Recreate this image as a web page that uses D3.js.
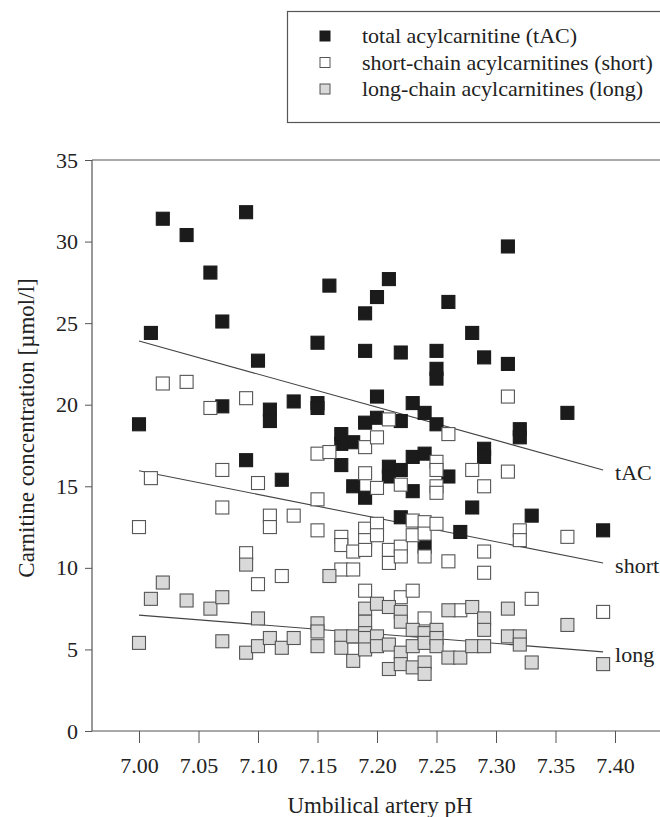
<!DOCTYPE html>
<html>
<head>
<meta charset="utf-8">
<script src="https://cdnjs.cloudflare.com/ajax/libs/d3/7.8.5/d3.min.js"></script>
<style>
  body { margin: 0; background: #fff; }
  text { font-family: "Liberation Serif", "Times New Roman", serif; fill: #222; }
</style>
</head>
<body>
<div id="scatter"></div>
<script>
// pH values and concentrations (umol/l)
var tacPH = [7.00,7.01,7.02,7.04,7.06,7.07,7.07,7.09,7.09,7.10,7.11,7.11,7.12,7.13,7.15,7.15,7.15,7.16,
  7.17,7.17,7.17,7.18,7.18,7.19,7.19,7.19,7.19,7.20,7.20,7.20,7.21,7.21,7.21,7.22,7.22,7.22,7.22,
  7.23,7.23,7.23,7.24,7.24,7.24,7.25,7.25,7.25,7.25,7.26,7.26,7.27,7.28,7.28,7.29,7.29,7.29,
  7.31,7.31,7.32,7.32,7.33,7.36,7.39];
var tacValues = [18.8,24.4,31.4,30.4,28.1,25.1,19.9,31.8,16.6,22.7,19.7,19.0,15.4,20.2,23.8,20.1,19.8,27.3,
  18.2,17.6,16.3,17.7,15.0,25.6,23.3,18.9,14.3,26.6,20.5,19.2,27.7,16.2,15.6,23.2,19.0,16.0,13.1,
  20.1,16.8,14.7,19.5,17.0,11.3,23.3,22.2,21.6,18.8,26.3,15.6,12.2,24.4,13.7,22.9,17.3,16.8,
  29.7,22.5,18.5,18.0,13.2,19.5,12.3];

var shortPH = [7.00,7.01,7.02,7.04,7.06,7.07,7.07,7.09,7.09,7.10,7.10,7.11,7.11,7.12,7.13,7.15,7.15,7.15,
  7.16,7.17,7.17,7.17,7.18,7.18,7.18,7.19,7.19,7.19,7.19,7.19,7.19,7.20,7.20,7.20,7.20,7.21,7.21,7.21,
  7.22,7.22,7.22,7.22,7.23,7.23,7.23,7.24,7.24,7.24,7.24,7.25,7.25,7.25,7.25,7.25,7.26,7.26,7.27,
  7.28,7.29,7.29,7.29,7.31,7.31,7.32,7.32,7.33,7.36,7.39];
var shortValues = [12.5,15.5,21.3,21.4,19.8,16.0,13.7,20.4,10.9,15.2,9.0,13.2,12.5,9.5,13.2,17.0,14.2,12.3,
  17.1,11.9,11.4,9.9,11.0,9.9,5.0,17.4,15.8,12.4,11.7,11.1,8.6,18.0,14.9,12.7,12.0,19.1,11.1,10.3,
  15.1,11.3,10.7,8.2,12.9,12.0,8.6,12.8,12.1,10.7,6.9,16.5,16.0,15.0,14.6,12.7,18.2,10.4,7.4,
  16.0,15.0,11.0,9.7,20.5,15.9,12.3,11.7,8.1,11.9,7.3];

var longPH = [7.00,7.01,7.02,7.04,7.06,7.07,7.07,7.09,7.09,7.10,7.10,7.11,7.12,7.13,7.15,7.15,7.15,7.16,
  7.17,7.17,7.18,7.18,7.19,7.19,7.19,7.19,7.19,7.20,7.20,7.20,7.21,7.21,7.21,7.22,7.22,7.22,7.22,
  7.23,7.23,7.23,7.24,7.24,7.24,7.24,7.25,7.25,7.25,7.26,7.26,7.27,7.28,7.28,7.29,7.29,7.29,
  7.31,7.31,7.32,7.32,7.33,7.36,7.39];
var longValues = [5.4,8.1,9.1,8.0,7.5,8.2,5.5,10.2,4.8,6.9,5.2,5.7,5.1,5.7,6.6,6.1,5.2,9.5,
  5.8,5.1,5.8,4.3,7.5,6.7,6.0,5.7,5.0,7.8,5.8,5.2,7.6,5.3,3.8,7.3,6.7,4.8,4.1,
  6.2,5.2,3.9,6.0,5.4,4.2,3.5,6.2,5.7,5.2,7.4,4.5,4.5,7.6,5.2,6.9,6.2,5.2,
  7.5,5.8,5.8,5.3,4.2,6.5,4.1];

// regression lines: [start pH, end pH] and fitted values at those ends
var fitPH = [7.00, 7.39];
var tacFit = [23.9, 16.0];
var shortFit = [15.95, 10.3];
var longFit = [7.1, 4.85];

var xTicks = [7.00,7.05,7.10,7.15,7.20,7.25,7.30,7.35,7.40];
var yTicks = [0,5,10,15,20,25,30,35];

var seriesNames = ["total acylcarnitine (tAC)", "short-chain acylcarnitines (short)", "long-chain acylcarnitines (long)"];
var lineLabels = ["tAC", "short", "long"];

var svgWidth = 660;
var svgHeight = 817;

var svg = d3.select("#scatter")
    .append("svg")
    .attr("width", svgWidth)
    .attr("height", svgHeight);

// scales
var xScale = d3.scaleLinear().domain([7.00, 7.40]).range([139, 615]);
var yScale = d3.scaleLinear().domain([0, 35]).range([731, 160]);

var plotLeft = 92;
var plotRight = 662;

// frame: top line, x axis line, y axis line (right side runs off the page)
svg.append("line")
    .attr("x1", plotLeft).attr("x2", plotRight)
    .attr("y1", yScale(35)).attr("y2", yScale(35))
    .attr("stroke", "#555").attr("stroke-width", 1.2);
svg.append("line")
    .attr("x1", plotLeft).attr("x2", plotRight)
    .attr("y1", yScale(0)).attr("y2", yScale(0))
    .attr("stroke", "#555").attr("stroke-width", 1.2);
svg.append("line")
    .attr("x1", plotLeft).attr("x2", plotLeft)
    .attr("y1", yScale(35)).attr("y2", yScale(0))
    .attr("stroke", "#555").attr("stroke-width", 1.2);

// axes
var xAxis = d3.axisBottom(xScale)
    .tickValues(xTicks)
    .tickFormat(d3.format(".2f"))
    .tickSize(12)
    .tickPadding(14);

var yAxis = d3.axisLeft(yScale)
    .tickValues(yTicks)
    .tickSize(7)
    .tickPadding(7);

var xg = svg.append("g")
    .attr("transform", `translate(0, ${yScale(0)})`)
    .call(xAxis);
xg.select(".domain").remove();

var yg = svg.append("g")
    .attr("transform", `translate(${plotLeft}, 0)`)
    .call(yAxis);
yg.select(".domain").remove();

svg.selectAll(".tick line").attr("stroke", "#555");
svg.selectAll(".tick text")
    .style("font-family", "Liberation Serif")
    .style("font-size", "22px")
    .attr("fill", "#222");

// axis titles
svg.append("text")
    .attr("transform", `translate(380, 813)`)
    .attr("text-anchor", "middle")
    .style("font-size", "23px")
    .text("Umbilical artery pH");

svg.append("text")
    .attr("transform", `translate(34, 428) rotate(-90)`)
    .attr("text-anchor", "middle")
    .style("font-size", "23px")
    .text("Carnitine concentration [\u00b5mol/l]");

// regression lines
var fits = [tacFit, shortFit, longFit];
fits.forEach(function(f, i) {
    svg.append("line")
        .attr("x1", xScale(fitPH[0])).attr("y1", yScale(f[0]))
        .attr("x2", xScale(fitPH[1])).attr("y2", yScale(f[1]))
        .attr("stroke", "#444").attr("stroke-width", 1.1);

    svg.append("text")
        .attr("x", xScale(fitPH[1]) + 12)
        .attr("y", yScale(f[1]) + 10)
        .style("font-size", "22px")
        .text(lineLabels[i]);
});

// point styles per series
var styles = [
    {fill: "#1b1b1b", stroke: "#1b1b1b"},
    {fill: "#ffffff", stroke: "#555"},
    {fill: "#d9d9d9", stroke: "#555"}
];

var boxSize = 13;

function drawSeries(ph, vals, style) {
    var data = ph.map(function(p, i) { return {ph: p, value: vals[i]}; });
    svg.append("g")
        .selectAll("rect")
        .data(data)
        .enter()
        .append("rect")
        .attr("x", d => xScale(d.ph) - boxSize / 2)
        .attr("y", d => yScale(d.value) - boxSize / 2)
        .attr("width", boxSize)
        .attr("height", boxSize)
        .attr("fill", style.fill)
        .attr("stroke", style.stroke)
        .attr("stroke-width", 1.1);
}

drawSeries(tacPH, tacValues, styles[0]);
drawSeries(shortPH, shortValues, styles[1]);
drawSeries(longPH, longValues, styles[2]);

// legend box
var legend = svg.append("g");
legend.append("rect")
    .attr("x", 287.5).attr("y", 11.5)
    .attr("width", 400).attr("height", 111)
    .attr("fill", "none")
    .attr("stroke", "#555").attr("stroke-width", 1.2);

seriesNames.forEach(function(name, i) {
    var rowY = 36 + i * 26.5;
    legend.append("rect")
        .attr("x", 320).attr("y", rowY - 5)
        .attr("width", 10).attr("height", 10)
        .attr("fill", styles[i].fill)
        .attr("stroke", styles[i].stroke)
        .attr("stroke-width", 1);
    legend.append("text")
        .attr("x", 362)
        .attr("y", rowY + 7)
        .style("font-size", "22px")
        .text(name);
});
</script>
</body>
</html>
